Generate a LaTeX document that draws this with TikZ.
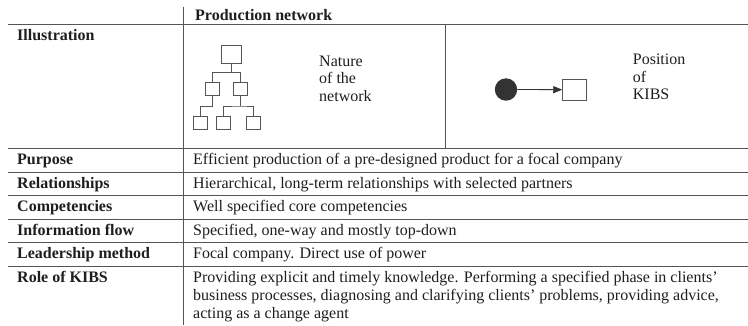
\documentclass[tikz,border=0pt]{standalone}
\usepackage{fontspec}
\setmainfont{Liberation Serif}
\usetikzlibrary{arrows.meta}
\definecolor{rulec}{HTML}{555555}
\definecolor{inkc}{HTML}{1E1E1E}
\begin{document}
\begin{tikzpicture}[x=1pt,y=-1pt,
  every node/.style={text=inkc,font=\fontsize{16}{17.5}\selectfont},
  rule/.style={draw=rulec,line width=0.9pt},
  lab/.style={anchor=base west,inner sep=0,font=\fontsize{16}{17.5}\selectfont\bfseries},
  txt/.style={anchor=base west,inner sep=0},
  multi/.style={anchor=north west,inner sep=0,align=left},
  bigbox/.style={draw=rulec,line width=0.8pt,minimum width=20,minimum height=18,inner sep=0},
  smallbox/.style={draw=rulec,line width=0.8pt,minimum width=14,minimum height=13,inner sep=0},
  tree/.style={draw=rulec,line width=0.8pt},
]
\useasboundingbox (0,0) rectangle (748,325);

% table rules
\draw[rule] (183,6.5) -- (183,325);
\draw[rule] (445,24.5) -- (445,148.5);
\draw[rule] (8,24.5) -- (748,24.5);
\foreach \yy in {148.5,172,195.5,219,242.5,266}{
  \draw[rule] (8,\yy) -- (748,\yy);
}

% header
\node[lab] (hdr) at (195,20.5) {Production network};
\node[lab] (ill) at (17,40.7) {Illustration};

% rows
\node[lab] (l1) at (17,164.7) {Purpose};
\node[txt] (v1) at (193,164.7) {Efficient production of a pre-designed product for a focal company};
\node[lab] (l2) at (17,188.2) {Relationships};
\node[txt] (v2) at (193,188.2) {Hierarchical, long-term relationships with selected partners};
\node[lab] (l3) at (17,211.7) {Competencies};
\node[txt] (v3) at (193,211.7) {Well specified core competencies};
\node[lab] (l4) at (17,235.2) {Information flow};
\node[txt] (v4) at (193,235.2) {Specified, one-way and mostly top-down};
\node[lab] (l5) at (17,258.7) {Leadership method};
\node[txt] (v5) at (193,258.7) {Focal company. Direct use of power};
\node[lab] (l6) at (17,282.2) {Role of KIBS};
\node[multi,font=\fontsize{16}{18}\selectfont] (v6) at (193,271.3) {Providing explicit and timely knowledge. Performing a specified phase in clients’\\business processes, diagnosing and clarifying clients’ problems, providing advice,\\acting as a change agent};

% tree illustration
\node[bigbox] (t) at (231,54) {};
\node[smallbox] (mL) at (212.8,89) {};
\node[smallbox] (mR) at (240.3,89) {};
\node[smallbox] (b1) at (200,122.7) {};
\node[smallbox] (b2) at (223.7,122.7) {};
\node[smallbox] (b3) at (253.7,122.7) {};
\coordinate (j1) at (231,72.3);
\coordinate (j2) at (212.8,106);
\coordinate (j3) at (240.3,106);
\draw[tree] (t.south) -- (j1);
\draw[tree] (mL.north) |- (j1) -| (mR.north);
\draw[tree] (mL.south) -- (j2) -| (b1.north);
\draw[tree] (mR.south) -- (j3);
\draw[tree] (b2.north) |- (j3) -| (b3.north);
\node[multi] (nat) at (319,55.4) {Nature\\of the\\network};

% KIBS position illustration
\node[circle,fill=black!80,minimum size=22.4,inner sep=0] (c) at (506,89.5) {};
\node[draw=rulec,line width=0.8pt,minimum width=23.3,minimum height=20.7,inner sep=0] (k) at (574.3,89.7) {};
\draw[draw=black!80,line width=0.8pt,-{Triangle[length=9pt,width=7pt]}] (c) -- (k);
\node[multi] (pos) at (632.7,54.1) {Position\\of\\KIBS};
\end{tikzpicture}
\end{document}
